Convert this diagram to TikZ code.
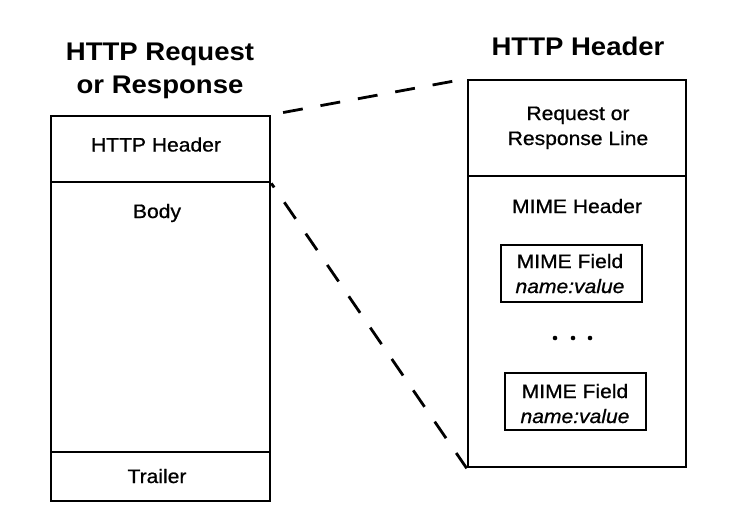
\documentclass[tikz,border=0pt]{standalone}
\usepackage{fontspec}
\setmainfont{Liberation Sans}[FakeStretch=1.08]
\newfontfamily\medfont{Liberation Sans}[FakeStretch=1.08, FakeBold=0.8]
\usepackage{tikz}

\tikzset{
    part/.style={draw, line width=2.6pt, inner sep=0pt},
    field/.style={draw, line width=2pt, inner sep=0pt, minimum width=141pt, minimum height=57pt},
    lbl/.style={anchor=base, inner sep=0pt, align=center, font=\medfont\fontsize{19.5}{25}\selectfont},
    ttl/.style={anchor=base, inner sep=0pt, align=center, font=\bfseries\fontsize{25.5}{33}\selectfont},
    zoomline/.style={line width=2.8pt, dash pattern=on 20pt off 18pt}
}

\begin{document}
\begin{tikzpicture}[x=1pt, y=-1pt]
    \useasboundingbox (0, 0) rectangle (738, 528);
    % left: the message
    \node[ttl] (msgtitle) at (160, 93) {HTTP Request\\or Response};
    \node[part, minimum width=219pt, minimum height=66pt] (lhdr) at (160.5, 149) {};
    \node[part, minimum width=219pt, minimum height=270pt] (lbody) at (160.5, 317) {};
    \node[part, minimum width=219pt, minimum height=49pt] (ltrail) at (160.5, 476.5) {};
    \node[lbl] (lhdrtext) at (156, 151.5) {HTTP Header};
    \node[lbl] (lbodytext) at (157, 218) {Body};
    \node[lbl] (ltrailtext) at (157, 483) {Trailer};

    % right: the header blown up
    \node[ttl] (hdrtitle) at (578, 55) {HTTP Header};
    \node[part, minimum width=218pt, minimum height=96pt] (rline) at (577, 128) {};
    \node[part, minimum width=218pt, minimum height=291pt] (rmime) at (577, 321.5) {};
    \node[lbl] (rlinetext) at (578, 145) {Request or\\Response Line};
    \node[lbl] (rmimetext) at (577, 213) {MIME Header};
    \node[field] (fielda) at (571.5, 273.5) {};
    \node[field] (fieldb) at (575, 401.5) {};
    \node[lbl] (fieldatext) at (570, 293) {MIME Field\\\itshape name:value};
    \node[lbl] (fieldbtext) at (575, 423) {MIME Field\\\itshape name:value};
    \foreach \x in {555, 573, 590}
        \fill (\x, 338) circle (2.3pt);

    \draw[zoomline, dash phase=26pt] (lhdr.north east) -- (rline.north west);
    \draw[zoomline, dash phase=15pt] (lhdr.south east) -- (rmime.south west);
\end{tikzpicture}
\end{document}
